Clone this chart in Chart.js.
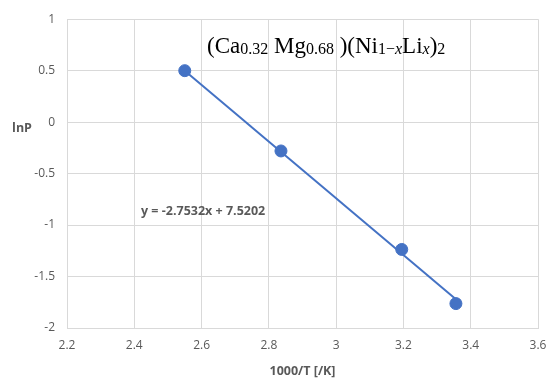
<!DOCTYPE html>
<html>
<head>
<meta charset="utf-8">
<script src="https://cdn.jsdelivr.net/npm/chart.js@4/dist/chart.umd.min.js"></script>
<style>
  html, body { margin: 0; padding: 0; background: #fff; }
  #wrap { width: 548px; height: 383px; }
</style>
</head>
<body>
<div id="wrap"><canvas id="chart"></canvas></div>
<script>
const invT = [2.55, 2.836, 3.195, 3.356];
const lnP = [0.50, -0.28, -1.237, -1.763];

// trendline end points as drawn
const trendX = [2.55, 3.356];
const trendY = [0.50, -1.72];

const xTicks = [2.2, 2.4, 2.6, 2.8, 3, 3.2, 3.4, 3.6];
const yTicks = [1, 0.5, 0, -0.5, -1, -1.5, -2];

const equation = 'y = -2.7532x + 7.5202';
const yTitle = 'lnP';

// formula text pieces: [text, size, italic, drop]
const formula = [
    ['(Ca', 23, false, 0], ['0.32', 16, false, 1], [' Mg', 23, false, 0], ['0.68', 16, false, 1],
    [' )(Ni', 23, false, 0], ['1\u2212', 16, false, 1], ['x', 16, true, 1], ['Li', 23, false, 0],
    ['x', 16, true, 1], [')', 23, false, 0], ['2', 16, false, 1]
];

const blue = '#4472C4';
const grey = '#595959';

const labelsPlugin = {
    id: 'labels',
    afterDraw(chart) {
        const ctx = chart.ctx;
        ctx.save();
        ctx.textBaseline = 'alphabetic';
        let x = 207;
        formula.forEach(p => {
            ctx.font = (p[2] ? 'italic ' : '') + p[1] + 'px "Liberation Serif"';
            ctx.fillStyle = '#000';
            ctx.fillText(p[0], x, 53 + p[3]);
            x += ctx.measureText(p[0]).width;
        });
        ctx.font = 'bold 12.5px "Open Sans"';
        ctx.fillStyle = grey;
        ctx.textBaseline = 'middle';
        ctx.fillText(equation, 141, 211);
        // horizontal y-axis title
        ctx.textAlign = 'center';
        ctx.fillText(yTitle, 22, 128);
        ctx.restore();
    }
};

const fmt = v => String(v);

new Chart(document.getElementById('chart'), {
    type: 'scatter',
    data: {
        datasets: [{
            data: invT.map((v, i) => ({ x: v, y: lnP[i] })),
            backgroundColor: blue,
            borderColor: blue,
            pointRadius: 6,
            showLine: false
        }, {
            data: trendX.map((v, i) => ({ x: v, y: trendY[i] })),
            borderColor: blue,
            borderWidth: 2,
            pointRadius: 0,
            showLine: true
        }]
    },
    options: {
        responsive: true,
        maintainAspectRatio: false,
        animation: false,
        layout: { padding: { top: 14, right: 0, left: 0, bottom: 0 } },
        plugins: { legend: { display: false }, tooltip: { enabled: false } },
        scales: {
            x: {
                type: 'linear',
                min: 2.2, max: 3.6,
                afterBuildTicks: s => { s.ticks = xTicks.map(v => ({ value: v })); },
                afterFit: s => { s.height = 55; s.paddingRight = 10; },
                grid: { color: '#d9d9d9', lineWidth: 1, drawTicks: false },
                border: { color: '#d9d9d9' },
                ticks: { color: grey, font: { family: 'Open Sans', size: 12 }, padding: 10, callback: fmt },
                title: { display: true, text: '1000/T [/K]', color: grey,
                    font: { family: 'Open Sans', size: 12.5, weight: 'bold' }, padding: { top: 7 } }
            },
            y: {
                min: -2, max: 1,
                afterBuildTicks: s => { s.ticks = yTicks.map(v => ({ value: v })); },
                afterFit: s => { s.width = 67; },
                grid: { color: '#d9d9d9', lineWidth: 1, drawTicks: false },
                border: { color: '#d9d9d9' },
                ticks: { color: grey, font: { family: 'Open Sans', size: 12 }, padding: 12, callback: fmt }
            }
        }
    },
    plugins: [labelsPlugin]
});
</script>
</body>
</html>
